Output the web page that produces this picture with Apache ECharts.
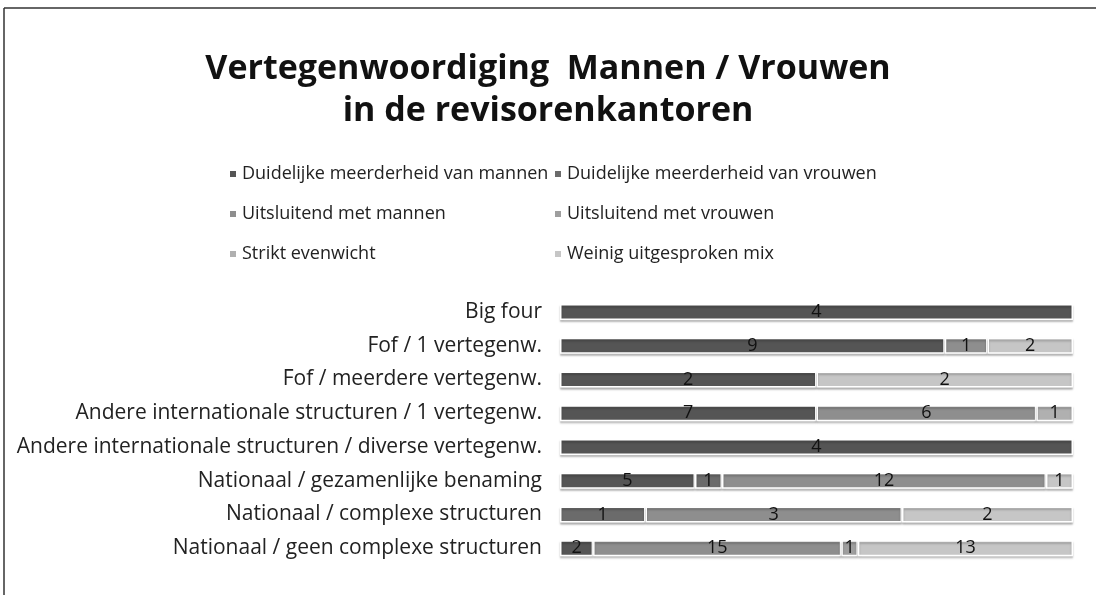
<!DOCTYPE html>
<html>
<head>
<meta charset="utf-8">
<script src="https://cdn.jsdelivr.net/npm/echarts@6/dist/echarts.min.js"></script>
<style>
html,body{margin:0;padding:0;background:#fff;}
#chart{width:1096px;height:595px;}
</style>
</head>
<body>
<div id="chart"></div>
<script>
const categories = [
  "Big four",
  "Fof / 1 vertegenw.",
  "Fof / meerdere vertegenw.",
  "Andere internationale structuren / 1 vertegenw.",
  "Andere internationale structuren / diverse vertegenw.",
  "Nationaal / gezamenlijke benaming",
  "Nationaal / complexe structuren",
  "Nationaal / geen complexe structuren"
];
const seriesNames = [
  "Duidelijke meerderheid van mannen",
  "Duidelijke meerderheid van vrouwen",
  "Uitsluitend met mannen",
  "Uitsluitend met vrouwen",
  "Strikt evenwicht",
  "Weinig uitgesproken mix"
];
const meerderheidMannen = [4, 9, 2, 7, 4, 5, 0, 2];
const meerderheidVrouwen = [0, 0, 0, 0, 0, 1, 1, 0];
const uitsluitendMannen = [0, 1, 0, 6, 0, 12, 3, 15];
const uitsluitendVrouwen = [0, 0, 0, 0, 0, 0, 0, 1];
const striktEvenwicht = [0, 0, 0, 1, 0, 0, 0, 0];
const weinigMix = [0, 2, 2, 0, 0, 1, 2, 13];

const seriesValues = [meerderheidMannen, meerderheidVrouwen, uitsluitendMannen, uitsluitendVrouwen, striktEvenwicht, weinigMix];
const colors = ["#555555", "#6b6b6b", "#8e8e8e", "#9e9e9e", "#b0b0b0", "#c6c6c6"];
const FONT = "Open Sans";

const totals = categories.map((c, i) => seriesValues.reduce((s, arr) => s + arr[i], 0));

const series = seriesNames.map((name, k) => ({
  name: name,
  type: 'bar',
  stack: 'total',
  barWidth: 16,
  itemStyle: { color: colors[k], borderColor: '#ffffff', borderWidth: 1.5,
               shadowColor: 'rgba(0,0,0,0.25)', shadowOffsetY: 2, shadowBlur: 2 },
  label: {
    show: true, position: 'inside', color: '#111', fontFamily: FONT, fontSize: 18,
    formatter: p => { const v = seriesValues[k][p.dataIndex]; return v ? String(v) : ''; }
  },
  data: seriesValues[k].map((v, i) => v === 0 ? null : v / totals[i] * 100)
}));

const legendPos = [
  [228, 165], [553, 165],
  [228, 205], [553, 205],
  [228, 245], [553, 245]
];
const legends = seriesNames.map((n, k) => ({
  data: [n], left: legendPos[k][0], top: legendPos[k][1],
  itemWidth: 8, itemHeight: 8, itemGap: 6, icon: 'rect',
  textStyle: { fontFamily: FONT, fontSize: 18, color: '#222' },
  selectedMode: false, padding: 0
}));

const chart = echarts.init(document.getElementById('chart'));
chart.setOption({
  backgroundColor: '#ffffff',
  animation: false,
  color: colors,
  title: {
    text: 'Vertegenwoordiging  Mannen / Vrouwen\nin de revisorenkantoren',
    left: 'center', top: 43,
    textStyle: { fontFamily: FONT, fontWeight: 'bold', fontSize: 34, lineHeight: 42, color: '#111' }
  },
  legend: legends,
  grid: { left: 560, right: 23, top: 295, bottom: 30, containLabel: false },
  xAxis: { type: 'value', min: 0, max: 100, show: false },
  yAxis: {
    type: 'category', data: categories, inverse: true,
    axisLine: { show: false }, axisTick: { show: false },
    axisLabel: { fontFamily: FONT, fontSize: 21, color: '#222', margin: 18 }
  },
  series: series,
  graphic: [
    { type: 'line', shape: { x1: 4, y1: 8, x2: 1096, y2: 8 }, style: { stroke: '#333', lineWidth: 1.5 } },
    { type: 'line', shape: { x1: 4, y1: 8, x2: 4, y2: 595 }, style: { stroke: '#333', lineWidth: 1.5 } }
  ]
});
</script>
</body>
</html>
